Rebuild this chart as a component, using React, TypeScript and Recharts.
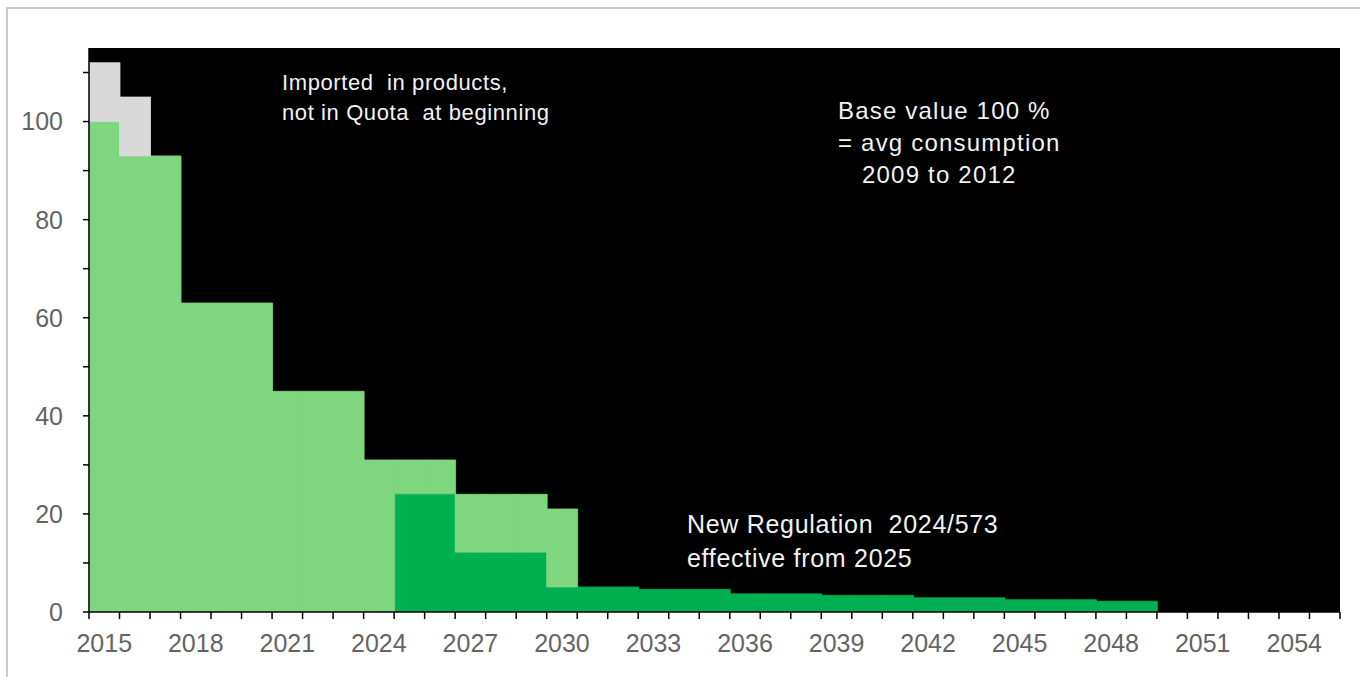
import { BarChart, Bar, XAxis, YAxis, CartesianGrid } from "recharts";

const years = [
  2015, 2016, 2017, 2018, 2019, 2020, 2021, 2022, 2023, 2024,
  2025, 2026, 2027, 2028, 2029, 2030, 2031, 2032, 2033, 2034,
  2035, 2036, 2037, 2038, 2039, 2040, 2041, 2042, 2043, 2044,
  2045, 2046, 2047, 2048, 2049, 2050, 2051, 2052, 2053, 2054,
  2055,
];

// old regulation 517/2014 quota, % of base value
const oldQuota = [
  100, 93, 93, 63, 63, 63, 45, 45, 45, 31,
  31, 31, 24, 24, 24, 21, 0, 0, 0, 0,
  0, 0, 0, 0, 0, 0, 0, 0, 0, 0,
  0, 0, 0, 0, 0, 0, 0, 0, 0, 0,
  0,
];

// new regulation 2024/573 quota
const newQuota = [
  0, 0, 0, 0, 0, 0, 0, 0, 0, 0,
  24.1, 24.1, 12.2, 12.2, 12.2, 5.1, 5.1, 5.1, 4.6, 4.6,
  4.6, 3.7, 3.7, 3.7, 3.4, 3.4, 3.4, 2.9, 2.9, 2.9,
  2.5, 2.5, 2.5, 2.2, 2.2, 0, 0, 0, 0, 0,
  0,
];

// imported in products, not in quota at beginning
const imported = [
  12, 12, 0, 0, 0, 0, 0, 0, 0, 0,
  0, 0, 0, 0, 0, 0, 0, 0, 0, 0,
  0, 0, 0, 0, 0, 0, 0, 0, 0, 0,
  0, 0, 0, 0, 0, 0, 0, 0, 0, 0,
  0,
];

const yTicks = [0, 10, 20, 30, 40, 50, 60, 70, 80, 90, 100, 110];

const data = years.map((year, i) => ({
  year,
  newQ: newQuota[i],
  oldRest: Math.max(oldQuota[i] - newQuota[i], 0),
  imported: imported[i],
}));

const W = 1360;
const H = 677;
const PLOT_LEFT = 89;
const PLOT_RIGHT = 1340;
const HALF_BAND = (PLOT_RIGHT - PLOT_LEFT) / years.length / 2;
const FONT = "'Liberation Sans', Arial, sans-serif";
const AXIS_TEXT = "#646464";

const DARK = "#00b050";
const LIGHT = "#7fd67f";
const GREY = "#d9d9d9";

function YearTick(props: any) {
  const { x, y, payload } = props;
  const i = payload.index;
  const left = x - HALF_BAND;
  return (
    <g>
      <line x1={left} y1={y} x2={left} y2={y + 7} stroke="#000" strokeWidth={1.5} />
      {i === years.length - 1 && (
        <line x1={x + HALF_BAND} y1={y} x2={x + HALF_BAND} y2={y + 7} stroke="#000" strokeWidth={1.5} />
      )}
      {i % 3 === 0 && (
        <text x={x} y={y + 40} textAnchor="middle" fontSize={25} fontFamily={FONT} fill={AXIS_TEXT}>
          {payload.value}
        </text>
      )}
    </g>
  );
}

export default function App() {
  return (
    <div style={{ position: "absolute", left: 0, top: 0, width: W, height: H, background: "#fff", overflow: "hidden" }}>
      <div
        style={{
          position: "absolute",
          left: 6,
          top: 7,
          width: W,
          height: H + 20,
          border: "2px solid #c8c8c8",
        }}
      />
      <div style={{ position: "absolute", left: 0, top: 0 }}>
        <BarChart
          width={W}
          height={H}
          data={data}
          margin={{ top: 48, right: W - PLOT_RIGHT, bottom: 15, left: 0 }}
          barCategoryGap={0}
          barGap={0}
        >
          <CartesianGrid fill="#000" stroke="none" horizontal={false} vertical={false} />
          <Bar dataKey="newQ" stackId="a" fill={DARK} stroke={DARK} strokeWidth={0.8} isAnimationActive={false} />
          <Bar dataKey="oldRest" stackId="a" fill={LIGHT} stroke={LIGHT} strokeWidth={0.8} isAnimationActive={false} />
          <Bar dataKey="imported" stackId="a" fill={GREY} stroke={GREY} strokeWidth={0.8} isAnimationActive={false} />
          <XAxis
            dataKey="year"
            type="category"
            interval={0}
            height={50}
            tickSize={0}
            tickMargin={0}
            tickLine={false}
            axisLine={{ stroke: "#000", strokeWidth: 1.5 }}
            tick={<YearTick />}
          />
          <YAxis
            type="number"
            domain={[0, 115]}
            ticks={yTicks}
            width={PLOT_LEFT}
            tickSize={6}
            tickMargin={20}
            tickFormatter={(v: number) => (v % 20 === 0 ? String(v) : "")}
            tick={{ fontSize: 25, fontFamily: FONT, fill: AXIS_TEXT }}
            tickLine={{ stroke: "#000", strokeWidth: 1.5 }}
            axisLine={{ stroke: "#000", strokeWidth: 1.5 }}
            allowDataOverflow
          />
        </BarChart>
      </div>
      <svg
        width={W}
        height={H}
        style={{ position: "absolute", left: 0, top: 0, pointerEvents: "none" }}
        fontFamily={FONT}
        fill="#f2f2f2"
      >
        <text x={282} y={90} fontSize={22} letterSpacing={0.6} xmlSpace="preserve">Imported  in products,</text>
        <text x={282} y={120} fontSize={22} letterSpacing={0.6} xmlSpace="preserve">not in Quota  at beginning</text>
        <text x={838} y={119} fontSize={24} letterSpacing={1.2}>Base value 100 %</text>
        <text x={838} y={151} fontSize={24} letterSpacing={1.2}>= avg consumption</text>
        <text x={862} y={183} fontSize={24} letterSpacing={1.2}>2009 to 2012</text>
        <text x={687} y={533} fontSize={25} letterSpacing={0.7} xmlSpace="preserve">New Regulation  2024/573</text>
        <text x={687} y={567} fontSize={25} letterSpacing={0.7}>effective from 2025</text>
      </svg>
    </div>
  );
}
